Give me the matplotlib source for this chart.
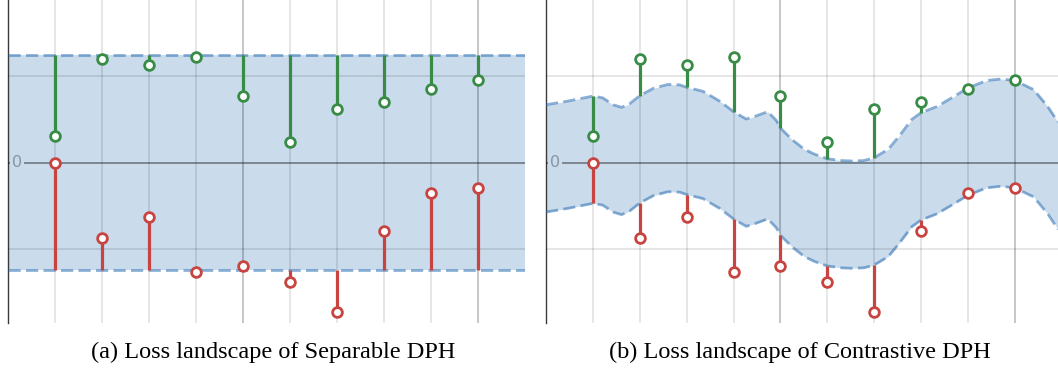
import numpy as np
import matplotlib
matplotlib.use('Agg')
import matplotlib.pyplot as plt

# sample positions and scores (same points in both panels)
xs = np.arange(1, 11)
pos_scores = [0.304, 1.195, 1.129, 1.218, 0.767, 0.235, 0.620, 0.697, 0.852, 0.956]
neg_scores = [0.0, -0.867, -0.628, -1.264, -1.195, -1.380, -1.730, -0.790, -0.347, -0.297]

# (a) separable: flat margin band
sep_margin = 1.24

# (b) contrastive: upper edge of the band
con_x = [0, 0.44, 0.72, 1, 1.21, 1.43, 1.61, 1.78, 2, 2.29, 2.6, 2.85, 3, 3.35, 3.71, 4,
         4.27, 4.45, 4.73, 4.91, 5, 5.26, 5.51, 5.72, 6, 6.3, 6.5, 6.78, 7, 7.3, 7.55,
         7.8, 8, 8.34, 8.7, 9, 9.4, 9.7, 10, 10.4, 10.7, 10.92]
con_top = [0.67, 0.71, 0.74, 0.77, 0.75, 0.67, 0.64, 0.68, 0.775, 0.86, 0.905, 0.90, 0.872,
           0.825, 0.71, 0.59, 0.505, 0.535, 0.59, 0.49, 0.40, 0.262, 0.155, 0.10, 0.046,
           0.025, 0.02, 0.025, 0.058, 0.155, 0.32, 0.50, 0.578, 0.65, 0.765, 0.865, 0.95,
           0.968, 0.95, 0.845, 0.65, 0.47]
con_width = 1.24

captions = ['(a) Loss landscape of Separable DPH', '(b) Loss landscape of Contrastive DPH']

GREEN = '#388c46'
RED = '#c74440'
BLUE = '#2d70b3'
BAND_BG = '#cadbec'


def setup(ax, xmax):
    ax.set_xlim(0, xmax)
    ax.set_ylim(-1.847, 1.881)
    for s in ['top', 'right', 'bottom']:
        ax.spines[s].set_visible(False)
    ax.spines['left'].set_color('#3a3a3a')
    ax.spines['left'].set_linewidth(1.0)
    ax.set_xticks([5, 10])
    ax.set_xticks([1, 2, 3, 4, 6, 7, 8, 9], minor=True)
    ax.set_yticks([-1, 1], minor=True)
    ax.set_yticks([])
    ax.tick_params(which='both', length=0, labelbottom=False, labelleft=False)
    ax.grid(which='major', axis='x', color='black', alpha=0.28, lw=1.1)
    ax.grid(which='minor', color='black', alpha=0.13, lw=1.1)
    ax.set_axisbelow(False)
    ax.axhline(0, color='black', alpha=0.45, lw=1.2, zorder=2.6)
    ax.text(0.19, 0, '0', color='#8795a3', fontsize=11.5, ha='center', va='center',
            zorder=2.8, bbox=dict(boxstyle='square,pad=0.1', fc=BAND_BG, ec='none'))


def draw_points(ax, top_ends, bot_ends):
    ax.vlines(xs, pos_scores, top_ends, color=GREEN, lw=2.3, zorder=4)
    ax.vlines(xs, neg_scores, bot_ends, color=RED, lw=2.3, zorder=4)
    ax.plot(xs, pos_scores, 'o', mfc='white', mec=GREEN, ms=7.0, mew=2.0, zorder=5)
    ax.plot(xs, neg_scores, 'o', mfc='white', mec=RED, ms=7.0, mew=2.0, zorder=5)


fig = plt.figure(figsize=(10.58, 3.68), dpi=100)
ax1 = fig.add_axes([8 / 1058, 45.5 / 368, 517 / 1058, 322.5 / 368])
ax2 = fig.add_axes([546 / 1058, 45.5 / 368, 512 / 1058, 322.5 / 368])

# left panel
setup(ax1, 11.0)
ax1.axhspan(-sep_margin, sep_margin, color=BLUE, alpha=0.25, lw=0, zorder=1)
for yv in [sep_margin, -sep_margin]:
    ax1.axhline(yv, color=BLUE, alpha=0.55, lw=2.0, dashes=(4.4, 1.9), zorder=3)
draw_points(ax1, sep_margin, -sep_margin)

# right panel
setup(ax2, 10.92)
cx = np.array(con_x)
ctop = np.array(con_top)
cbot = ctop - con_width
ax2.fill_between(cx, cbot, ctop, color=BLUE, alpha=0.25, lw=0, zorder=1)
ax2.plot(cx, ctop, color=BLUE, alpha=0.55, lw=2.0, dashes=(4.4, 1.9), zorder=3)
ax2.plot(cx, cbot, color=BLUE, alpha=0.55, lw=2.0, dashes=(4.4, 1.9), zorder=3)
on_pts = np.isin(cx, xs)
draw_points(ax2, ctop[on_pts], cbot[on_pts])

fig.text(273.6 / 1058, 1 - 352 / 368, captions[0], ha='center', va='center',
         family='Liberation Serif', fontsize=17.5)
fig.text(800 / 1058, 1 - 352 / 368, captions[1], ha='center', va='center',
         family='Liberation Serif', fontsize=17.5)

fig.savefig('out.png', dpi=100)
